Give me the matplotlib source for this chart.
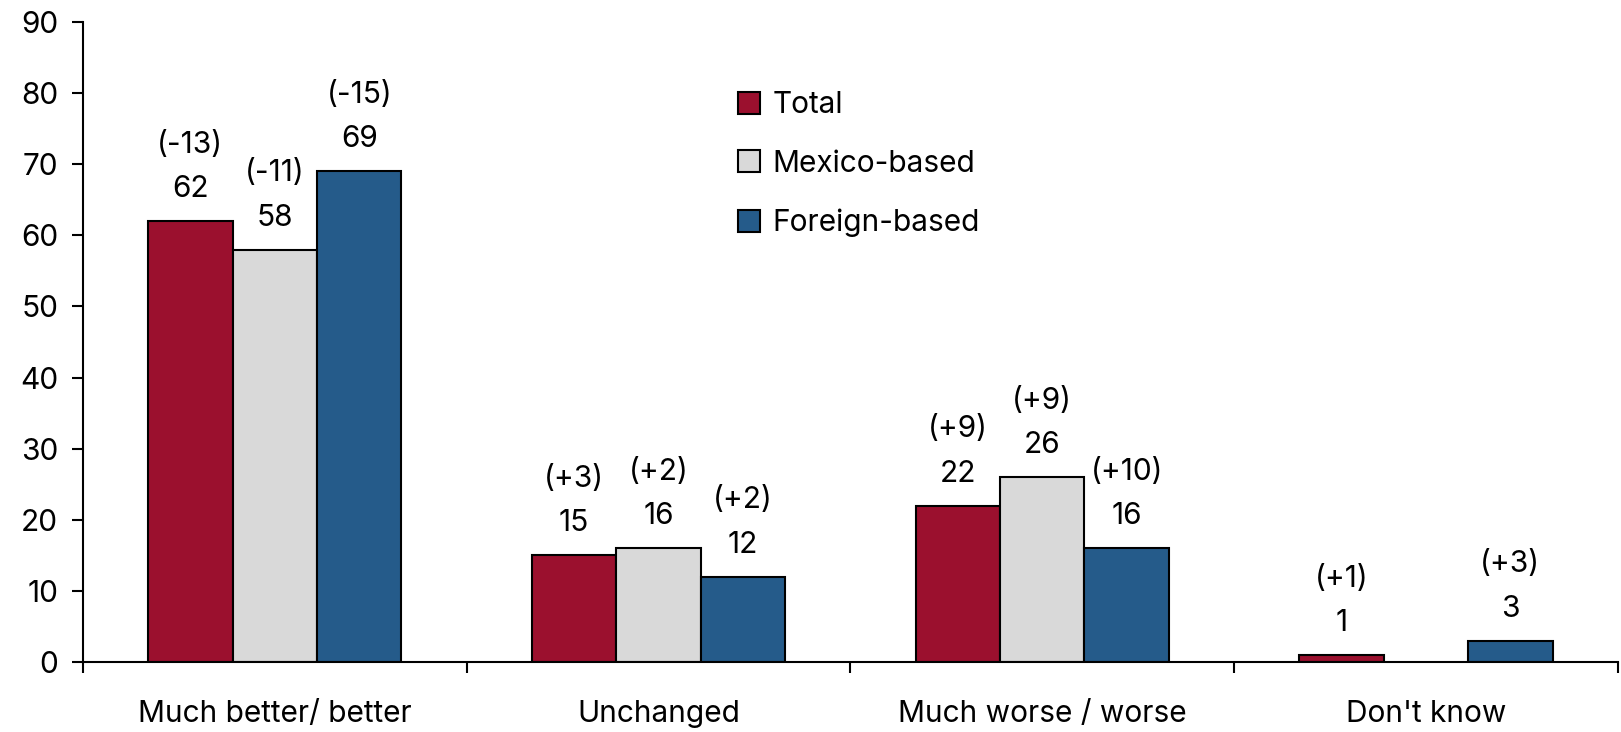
import numpy as np
import matplotlib
matplotlib.use('Agg')
import matplotlib.pyplot as plt
from matplotlib.ticker import FixedLocator, NullFormatter

plt.rcParams['font.family'] = ['Inter', 'DejaVu Sans']

categories = ['Much better/ better', 'Unchanged', 'Much worse / worse', "Don't know"]
series = ['Total', 'Mexico-based', 'Foreign-based']
total = [62, 15, 22, 1]
mexico = [58, 16, 26, 0]
foreign = [69, 12, 16, 3]
total_chg = ['(-13)', '(+3)', '(+9)', '(+1)']
mexico_chg = ['(-11)', '(+2)', '(+9)', '']
foreign_chg = ['(-15)', '(+2)', '(+10)', '(+3)']
colors = ['#9B102E', '#D9D9D9', '#255B8A']

FS = 21.5

fig = plt.figure(figsize=(16.21, 7.32), dpi=100)
ax = fig.add_axes([0.0512, 0.0956, 0.9468, 0.8744])

x = np.arange(len(categories)) + 0.5
w = 0.22
values = [total, mexico, foreign]
changes = [total_chg, mexico_chg, foreign_chg]
for i, (vals, chg) in enumerate(zip(values, changes)):
    pos = x + (i - 1) * w
    for j, (p, v, c) in enumerate(zip(pos, vals, chg)):
        # no bar / label where the value is 0
        if v == 0:
            continue
        ax.bar(p, v, width=w, color=colors[i], edgecolor='black', linewidth=1.5,
               label=series[i] if j == 0 else None)
        ax.annotate(str(v), (p, v), xytext=(0, 23), textcoords='offset points',
                    ha='center', va='center', fontsize=FS)
        ax.annotate(c, (p, v), xytext=(0, 55), textcoords='offset points',
                    ha='center', va='center', fontsize=FS)

ax.set_xlim(0, 4)
ax.set_ylim(0, 90)
ax.set_yticks(range(0, 91, 10))
ax.tick_params(axis='y', labelsize=FS, length=8, width=1.5, direction='out', pad=10)
ax.xaxis.set_major_locator(FixedLocator(x))
ax.set_xticklabels(categories)
# separators between categories
ax.xaxis.set_minor_locator(FixedLocator([0, 1, 2, 3, 4]))
ax.xaxis.set_minor_formatter(NullFormatter())
ax.tick_params(axis='x', which='major', length=0, labelsize=FS, pad=27)
ax.tick_params(axis='x', which='minor', length=8, width=1.5, direction='out')

for s in ['top', 'right']:
    ax.spines[s].set_visible(False)
ax.spines['left'].set_linewidth(1.5)
ax.spines['bottom'].set_linewidth(1.5)

ax.legend(loc='upper left', bbox_to_anchor=(0.4267, 0.892), frameon=False, fontsize=FS,
          borderaxespad=0, borderpad=0,
          handlelength=0.75, handleheight=0.75, handletextpad=0.4, labelspacing=1.03)

fig.savefig('out.png', dpi=100)
